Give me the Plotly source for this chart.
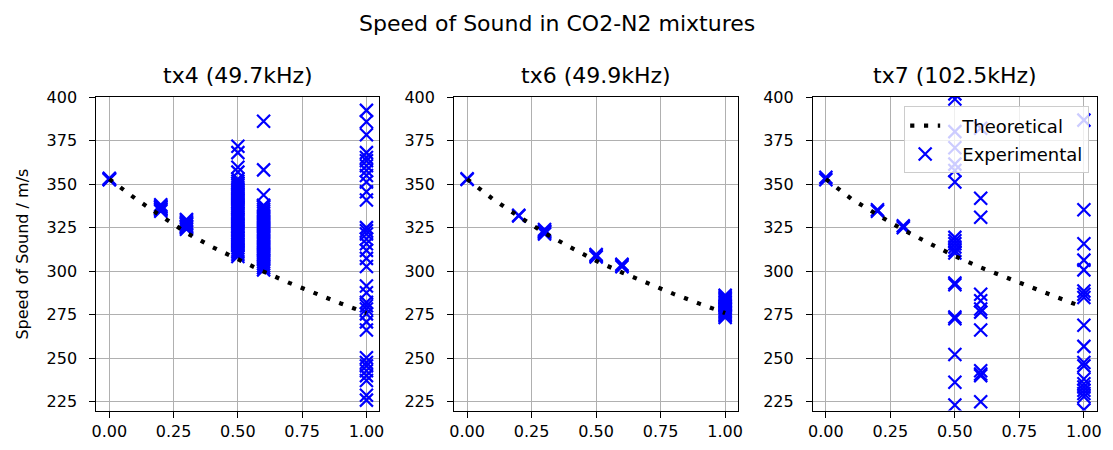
import plotly.graph_objects as go

# ---------------- data ----------------
theory_x = [0.0, 0.1, 0.2, 0.3, 0.4, 0.5, 0.6, 0.7, 0.8, 0.9, 1.0]
tx4_theory = [353.0, 341.9, 331.9, 322.1, 314.0, 306.6, 299.8, 293.3, 287.2, 281.5, 276.0]
tx6_theory = [353.0, 341.5, 331.5, 322.0, 313.8, 306.0, 299.3, 293.0, 287.0, 281.4, 276.0]
tx7_theory = [353.0, 341.5, 332.5, 323.8, 316.1, 308.7, 302.2, 296.2, 290.2, 284.8, 279.2]

tx4_00 = [353.0, 352.6, 353.4, 352.8]
tx4_02 = [334.5, 335.2, 336.0, 336.8, 337.5, 338.2, 335.8, 337.0]
tx4_03 = [324.2, 325.0, 326.0, 327.0, 328.0, 329.0, 329.8, 325.6, 327.5]
tx4_05 = [308.5, 309.7, 311.0, 312.1, 313.4, 314.6, 315.7, 317.0, 318.2, 319.3,
          320.6, 321.8, 323.0, 324.1, 325.4, 326.5, 327.8, 329.0, 330.1, 331.3,
          332.6, 333.7, 335.0, 336.2, 337.3, 338.6, 339.8, 340.9, 342.2, 343.4,
          344.5, 345.8, 347.0, 348.1, 349.4, 350.6, 351.8, 353.0,
          357.0, 359.8, 368.2, 371.9]
tx4_06 = [300.8, 302.0, 303.1, 304.4, 305.6, 306.7, 308.0, 309.2, 310.3, 311.6,
          312.8, 313.9, 315.2, 316.4, 317.5, 318.8, 320.0, 321.1, 322.4, 323.6,
          324.7, 326.0, 327.2, 328.3, 329.6, 330.8, 331.9, 333.2, 334.4, 335.5,
          336.8, 338.0, 343.8, 358.3, 386.3]
tx4_10 = [392.5, 386.0, 378.5, 368.2, 365.4, 363.5, 360.7, 357.9, 355.1, 351.3,
          345.7, 341.0, 325.1, 323.3, 321.4, 318.6, 315.8, 312.0, 307.4, 302.7,
          291.5, 287.7, 282.1, 280.2, 278.3, 275.5, 270.9, 266.2, 250.3, 247.5,
          245.6, 242.8, 240.0, 237.2, 228.7, 225.9]

tx6_00 = [353.2, 352.8]
tx6_02 = [331.8, 332.2]
tx6_03 = [321.4, 322.3, 323.2, 324.0, 322.8]
tx6_05 = [308.2, 309.0, 309.6]
tx6_06 = [302.6, 303.4, 304.0]
tx6_10 = [273.4, 274.2, 275.0, 275.8, 276.6, 277.4, 278.2, 279.0, 279.8, 280.6,
          281.4, 282.2, 283.0, 283.8, 284.6, 285.4, 286.2]

tx7_00 = [352.6, 354.0]
tx7_02 = [334.5, 335.4]
tx7_03 = [325.1, 326.1]
tx7_05 = [402.0, 399.0, 380.3, 371.0, 361.6, 357.9, 351.3, 319.5, 317.6, 315.8,
          313.9, 312.0, 310.5, 293.3, 292.3, 273.7, 272.7, 252.1, 236.2, 223.1]
tx7_06 = [382.2, 342.0, 331.1, 286.8, 283.0, 278.3, 276.5, 266.2, 242.8, 240.9,
          240.0, 225.0]
tx7_10 = [386.9, 335.4, 315.8, 306.4, 300.8, 288.6, 286.8, 284.9, 269.0, 256.8,
          247.5, 245.6, 238.1, 235.3, 233.4, 231.6, 229.7, 227.8, 220.3]

fractions = [0.0, 0.2, 0.3, 0.5, 0.6, 1.0]
panels = [
    ("tx4 (49.7kHz)", tx4_theory, [tx4_00, tx4_02, tx4_03, tx4_05, tx4_06, tx4_10]),
    ("tx6 (49.9kHz)", tx6_theory, [tx6_00, tx6_02, tx6_03, tx6_05, tx6_06, tx6_10]),
    ("tx7 (102.5kHz)", tx7_theory, [tx7_00, tx7_02, tx7_03, tx7_05, tx7_06, tx7_10]),
]
x_ticks = [0.0, 0.25, 0.5, 0.75, 1.0]
y_ticks = [225, 250, 275, 300, 325, 350, 375, 400]

# ---------------- layout geometry ----------------
W, H = 1113, 450
x_doms = [(92.3 / W, 377.7 / W), (453.3 / W, 739.7 / W), (815.3 / W, 1101.7 / W)]
y_dom = (1 - 410.7 / H, 1 - 90.0 / H)

FONT = "DejaVu Sans"
BLUE = "#0000ff"
PAD = "\u00a0\u00a0\u00a0"

fig = go.Figure()
annotations = []
for i, (title, theory, cols) in enumerate(panels):
    sfx = "" if i == 0 else str(i + 1)
    xs, ys = [], []
    for f, vals in zip(fractions, cols):
        xs += [f] * len(vals)
        ys += vals
    last = i == 2
    fig.add_trace(go.Scatter(
        x=xs, y=ys, mode="markers", name=PAD + "Experimental",
        xaxis="x" + sfx, yaxis="y" + sfx,
        marker=dict(symbol="x-thin", size=13, color=BLUE,
                    line=dict(color=BLUE, width=2.2)),
        showlegend=last, legendrank=2, legendgroup="exp",
    ))
    fig.add_trace(go.Scatter(
        x=theory_x, y=theory, mode="lines", name=PAD + "Theoretical",
        xaxis="x" + sfx, yaxis="y" + sfx,
        line=dict(color="black", width=4.2, dash="4.2px,9.6px"),
        showlegend=last, legendrank=1, legendgroup="theo",
    ))
    common = dict(showline=True, linecolor="black", linewidth=1.2, mirror=True,
                  showgrid=True, gridcolor="#b0b0b0", gridwidth=1.1,
                  zeroline=False, ticks="outside", ticklen=6, tickwidth=1.1,
                  tickcolor="black", tickfont=dict(family=FONT, size=16, color="black"))
    fig.update_layout(**{
        "xaxis" + sfx: dict(domain=x_doms[i], range=[-0.05, 1.05], anchor="y" + sfx,
                            tickvals=x_ticks, ticktext=[f"{t:.2f}" for t in x_ticks],
                            **common),
        "yaxis" + sfx: dict(domain=y_dom, range=[219.9, 400.2], anchor="x" + sfx,
                            tickvals=y_ticks, ticklabelstandoff=9, **common),
    })
    annotations.append(dict(
        text=title, xref="paper", yref="paper",
        x=(x_doms[i][0] + x_doms[i][1]) / 2, y=1 - 68 / H,
        xanchor="center", yanchor="middle", showarrow=False,
        font=dict(family=FONT, size=22, color="black")))

annotations.append(dict(
    text="Speed of Sound in CO2-N2 mixtures", xref="paper", yref="paper",
    x=0.5, y=1 - 15 / H, xanchor="center", yanchor="middle", showarrow=False,
    font=dict(family=FONT, size=22, color="black")))
annotations.append(dict(
    text="Speed of Sound / m/s", xref="paper", yref="paper",
    x=18 / W, y=(y_dom[0] + y_dom[1]) / 2, xanchor="center", yanchor="middle",
    textangle=-90, showarrow=False,
    font=dict(family=FONT, size=16, color="black")))

fig.update_layout(
    width=W, height=H,
    margin=dict(l=0, r=0, t=0, b=0),
    paper_bgcolor="white", plot_bgcolor="white",
    annotations=annotations,
    showlegend=True,
    legend=dict(x=1094 / W, y=1 - 99.7 / H, xanchor="right", yanchor="top",
                traceorder="grouped", tracegroupgap=2,
                bgcolor="rgba(255,255,255,0.8)", bordercolor="#cccccc", borderwidth=1,
                font=dict(family=FONT, size=18, color="black")),
)

fig.write_html("out.html")
